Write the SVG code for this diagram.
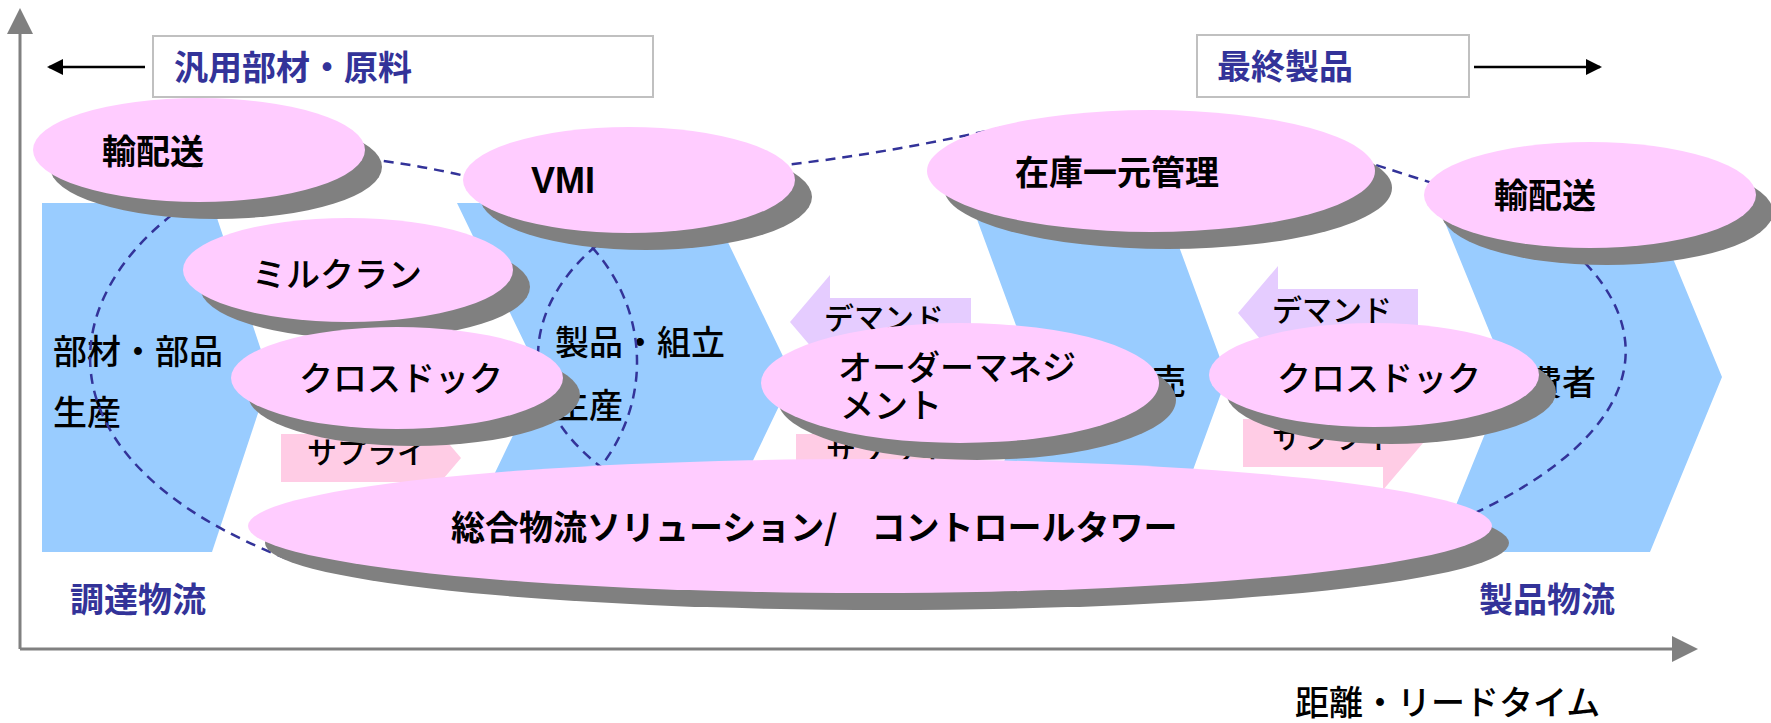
<svg xmlns="http://www.w3.org/2000/svg" width="1771" height="723" viewBox="0 0 1771 723">
<style>
.chev{fill:#99CCFF}
.dem{fill:#E5CCFF}
.sup{fill:#FFCCE5}
.sh{fill:#808080}
.pk{fill:#FFCCFF}
.dash{fill:none;stroke:#333399;stroke-width:2.5;stroke-dasharray:10 7}
.axis{stroke:#808080;stroke-width:3}
.t{font-family:'Noto Sans CJK JP','Noto Sans CJK SC',sans-serif;font-size:34px;fill:#000;font-weight:500}
.b{font-weight:700}
.blue{fill:#333399;font-weight:700}
.small{font-size:30px}
.box{fill:#fff;stroke:#C0C0C0;stroke-width:2}
</style>
<defs>
<marker id="ah" markerWidth="16" markerHeight="16" refX="14" refY="8" orient="auto" markerUnits="userSpaceOnUse"><path d="M0,0 L16,8 L0,16 Z" fill="#000"/></marker>
</defs>
<rect width="1771" height="723" fill="#fff"/>
<g id="axes">
<line class="axis" x1="20" y1="649" x2="20" y2="30"/>
<polygon points="20,8 7,34 33,34" fill="#808080"/>
<line class="axis" x1="20" y1="649" x2="1675" y2="649"/>
<polygon points="1698,649 1672,636 1672,662" fill="#808080"/>
<text class="t" x="1295" y="715">距離・リードタイム</text>
</g>
<g id="box-left">
<rect class="box" x="153" y="36" width="500" height="61"/>
<text class="t blue" x="174" y="80">汎用部材・原料</text>
</g>
<g id="box-right">
<rect class="box" x="1197" y="35" width="272" height="62"/>
<text class="t blue" x="1217" y="79">最終製品</text>
</g>
<g id="label-procure"><text class="t blue" x="70" y="612">調達物流</text></g>
<g id="label-product"><text class="t blue" x="1479" y="612">製品物流</text></g>
<g id="chev1">
<polygon class="chev" points="42,203 212,203 270,377 212,552 42,552"/>
<text class="t" x="53" y="364">部材・部品</text>
<text class="t" x="53" y="425">生産</text>
</g>
<g id="chev2">
<polygon class="chev" points="457,203 709,203 793,377 709,552 457,552 541,377"/>
<text class="t" x="555" y="355">製品・組立</text>
<text class="t" x="555" y="418">生産</text>
</g>
<g id="chev3">
<polygon class="chev" points="971,203 1163,203 1227,377 1163,552 971,552 1035,377"/>
<text class="t" x="1186" y="394" text-anchor="end">販売</text>
</g>
<g id="chev4">
<polygon class="chev" points="1437,203 1650,203 1722,377 1650,552 1437,552 1508,377"/>
<text class="t" x="1596" y="395" text-anchor="end">消費者</text>
</g>
<g id="demand1">
<polygon class="dem" points="790,322 830,275 830,298 971,298 971,346 830,346 830,369"/>
<text class="t small" x="824" y="329">デマンド</text>
</g>
<g id="demand2">
<polygon class="dem" points="1238,313 1278,266 1278,289 1418,289 1418,337 1278,337 1278,360"/>
<text class="t small" x="1272" y="321">デマンド</text>
</g>
<g id="supply1">
<polygon class="sup" points="281,434 421,434 421,411 461,458 421,505 421,482 281,482"/>
<text class="t small" x="307" y="463">サプライ</text>
</g>
<g id="supply2">
<polygon class="sup" points="796,434 936,434 936,411 976,458 936,505 936,482 796,482"/>
<text class="t small" x="826" y="463">サプライ</text>
</g>
<g id="supply3">
<polygon class="sup" points="1243,419 1383,419 1383,396 1423,443 1383,490 1383,467 1243,467"/>
<text class="t small" x="1272" y="448">サプライ</text>
</g>
<g id="connectors">
<path class="dash" d="M200,195 C50,290 30,460 290,560"/>
<path class="dash" d="M1560,240 C1660,320 1660,430 1460,520"/>
<path class="dash" d="M350,157 Q420,164 490,182"/>
<path class="dash" d="M775,166 Q880,155 1000,128"/>
<path class="dash" d="M1360,160 L1445,187"/>
<path class="dash" d="M610,235 C520,300 510,400 605,470"/>
<path class="dash" d="M580,235 C650,300 655,400 598,470"/>
</g>
<g id="total-solution">
<ellipse class="sh" cx="887" cy="543" rx="622" ry="67"/>
<ellipse class="pk" cx="870" cy="526" rx="622" ry="67"/>
<text class="t b" x="451" y="540">総合物流ソリューション/　コントロールタワー</text>
</g>
<g id="transport-left">
<ellipse class="sh" cx="216" cy="167" rx="166" ry="52"/>
<ellipse class="pk" cx="199" cy="150" rx="166" ry="52"/>
<text class="t b" x="102" y="164">輸配送</text>
</g>
<g id="vmi">
<ellipse class="sh" cx="646" cy="197" rx="166" ry="53"/>
<ellipse class="pk" cx="629" cy="180" rx="166" ry="53"/>
<text x="531" y="193" font-family="'Liberation Sans',Arial,sans-serif" font-size="36" font-weight="700">VMI</text>
</g>
<g id="inventory">
<ellipse class="sh" cx="1168" cy="188" rx="224" ry="61"/>
<ellipse class="pk" cx="1151" cy="171" rx="224" ry="61"/>
<text class="t b" x="1015" y="185">在庫一元管理</text>
</g>
<g id="transport-right">
<ellipse class="sh" cx="1607" cy="212" rx="166" ry="53"/>
<ellipse class="pk" cx="1590" cy="195" rx="166" ry="53"/>
<text class="t b" x="1494" y="208">輸配送</text>
</g>
<g id="milkrun">
<ellipse class="sh" cx="365" cy="287" rx="165" ry="52"/>
<ellipse class="pk" cx="348" cy="270" rx="165" ry="52"/>
<text class="t" x="252" y="287">ミルクラン</text>
</g>
<g id="crossdock-left">
<ellipse class="sh" cx="414" cy="395" rx="166" ry="51"/>
<ellipse class="pk" cx="397" cy="378" rx="166" ry="51"/>
<text class="t" x="299" y="391">クロスドック</text>
</g>
<g id="order-mgmt">
<ellipse class="sh" cx="977" cy="400" rx="199" ry="60"/>
<ellipse class="pk" cx="960" cy="383" rx="199" ry="60"/>
<text class="t" x="838" y="380">オーダーマネジ</text>
<text class="t" x="840" y="418">メント</text>
</g>
<g id="crossdock-right">
<ellipse class="sh" cx="1391" cy="392" rx="165" ry="52"/>
<ellipse class="pk" cx="1374" cy="375" rx="165" ry="52"/>
<text class="t" x="1277" y="391">クロスドック</text>
</g>
<g id="top-arrows">
<line x1="145" y1="67" x2="49" y2="67" stroke="#000" stroke-width="2.5" marker-end="url(#ah)"/>
<line x1="1474" y1="67" x2="1600" y2="67" stroke="#000" stroke-width="2.5" marker-end="url(#ah)"/>
</g>
</svg>
